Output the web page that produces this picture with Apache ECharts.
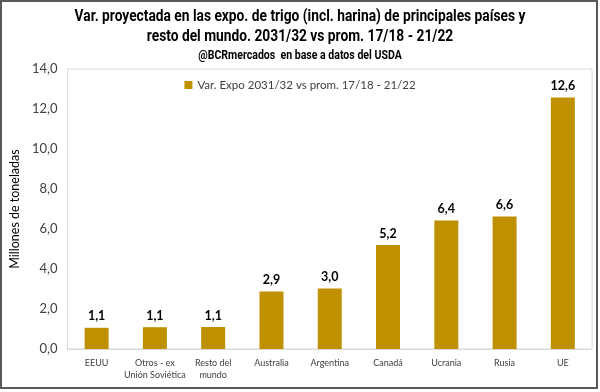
<!DOCTYPE html>
<html><head><meta charset="utf-8">
<script src="https://cdn.jsdelivr.net/npm/echarts@6/dist/echarts.min.js"></script>
<style>html,body{margin:0;padding:0;background:#fff}#c{width:600px;height:392px}</style>
</head><body><div id="c"></div>
<script>
var categories = ['EEUU', 'Otros - ex\nUnión Soviética', 'Resto del\nmundo', 'Australia', 'Argentina', 'Canadá', 'Ucrania', 'Rusia', 'UE'];
var values = [1.06, 1.09, 1.1, 2.87, 3.02, 5.2, 6.42, 6.62, 12.58];
var seriesName = 'Var. Expo 2031/32 vs prom. 17/18 - 21/22';
var titleLine1 = 'Var. proyectada en las expo. de trigo (incl. harina) de principales países y';
var titleLine2 = 'resto del mundo. 2031/32 vs prom. 17/18 - 21/22';
var subtitleText = '@BCRmercados  en base a datos del USDA';
var yName = 'Millones de toneladas';

var fmt = function (v) { return Number(v).toFixed(1).replace('.', ','); };
var tFont = 'Roboto, Liberation Sans, sans-serif';
var chart = echarts.init(document.getElementById('c'));
chart.setOption({
  animation: false,
  legend: {
    data: [seriesName], top: 74, left: 'center',
    itemWidth: 8, itemHeight: 8, itemGap: 4, icon: 'rect',
    textStyle: { fontFamily: 'Lato, sans-serif', fontSize: 11.5, color: '#404040' }
  },
  grid: { left: 58, right: 8, top: 69, bottom: 43, show: true, borderColor: '#d9d9d9', borderWidth: 1, backgroundColor: '#fff' },
  xAxis: {
    type: 'category', data: categories,
    axisLine: { lineStyle: { color: '#d9d9d9' } }, axisTick: { show: false },
    axisLabel: { fontFamily: 'Lato, sans-serif', fontSize: 9, color: '#404040', margin: 8, lineHeight: 12, interval: 0 }
  },
  yAxis: {
    type: 'value', min: 0, max: 14, interval: 2,
    name: yName, nameLocation: 'middle', nameGap: 40, nameRotate: 90,
    nameTextStyle: { fontFamily: 'Lato, sans-serif', fontSize: 12.5, color: '#000' },
    splitLine: { show: false }, axisLine: { show: false }, axisTick: { show: false },
    axisLabel: { formatter: fmt, fontFamily: 'Lato, sans-serif', fontSize: 13, color: '#404040', margin: 10 }
  },
  series: [{
    name: seriesName, type: 'bar', data: values, barWidth: 24,
    itemStyle: { color: '#BF9000' },
    label: { show: true, position: 'top', formatter: function (p) { return fmt(p.value); }, fontFamily: 'Lato, sans-serif', fontWeight: 'bold', fontSize: 12.5, color: '#000', distance: 5 }
  }],
  graphic: [
    { type: 'text', x: 300, y: 8, scaleX: 0.81, silent: true,
      style: { text: titleLine1, align: 'center', verticalAlign: 'top', font: 'bold 17px ' + tFont, fill: '#000' } },
    { type: 'text', x: 300, y: 28, scaleX: 0.81, silent: true,
      style: { text: titleLine2, align: 'center', verticalAlign: 'top', font: 'bold 17px ' + tFont, fill: '#000' } },
    { type: 'text', x: 300, y: 50, scaleX: 0.88, silent: true,
      style: { text: subtitleText, align: 'center', verticalAlign: 'top', font: 'bold 12px ' + tFont, fill: '#000' } },
    { type: 'rect', shape: { x: 1, y: 1, width: 596, height: 387 }, style: { fill: 'none', stroke: '#595959', lineWidth: 2 }, silent: true }
  ]
});
</script></body></html>
